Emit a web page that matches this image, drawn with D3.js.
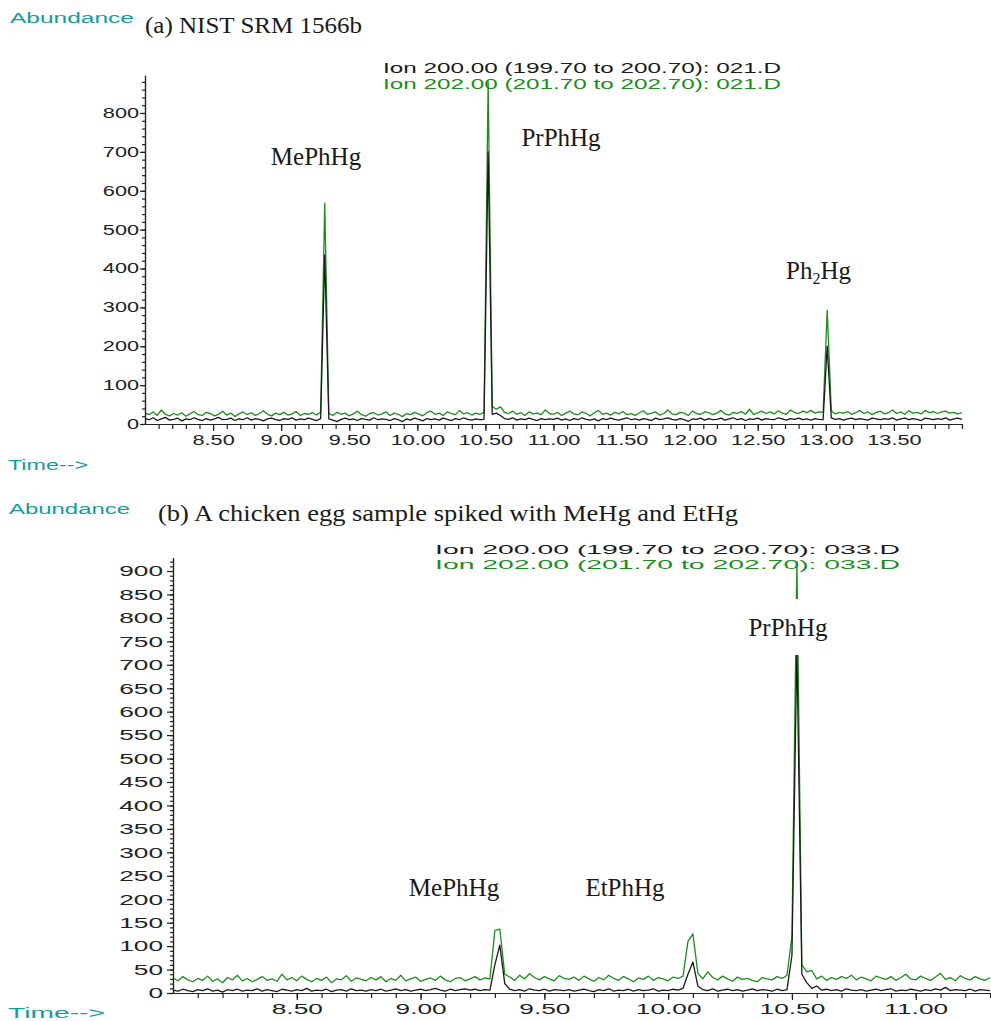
<!DOCTYPE html>
<html>
<head>
<meta charset="utf-8">
<script src="https://cdn.jsdelivr.net/npm/d3@7"></script>
<style>
  html, body { margin: 0; padding: 0; background: #fff; }
  svg { display: block; }
</style>
</head>
<body>
<svg id="chart" width="991" height="1021"></svg>
<script>
// ---- Scan timing (minutes) ----
const scanStartA = 8.0, scanStepA = 0.03;
const scanStartB = 8.0, scanStepB = 0.02;

// ---- (a) NIST SRM 1566b : extracted ion abundances ----
const ion202A = [
  28, 24, 31, 22, 36, 25, 21, 27, 23, 29, 20, 26, 32, 24, 22, 30, 27, 21, 25, 33,
  23, 28, 19, 26, 31, 24, 29, 22, 27, 34, 25, 21, 28, 24, 30, 23, 26, 32, 22, 27,
  25, 29, 23, 31, 568, 27, 22, 30, 25, 28, 21, 26, 33, 24, 20, 27, 29, 23, 26, 31,
  22, 28, 25, 19, 27, 24, 30, 26, 21, 29, 33, 25, 28, 22, 31, 27, 24, 35, 26, 29,
  23, 28, 25, 30, 880, 45, 38, 44, 30, 27, 33, 25, 29, 22, 31, 26, 28, 24, 36, 27,
  25, 30, 22, 28, 33, 26, 24, 31, 27, 21, 29, 35, 25, 28, 23, 30, 26, 32, 24, 27,
  22, 29, 34, 25, 28, 31, 23, 27, 36, 26, 24, 30, 28, 22, 33, 27, 25, 31, 29, 24,
  28, 35, 26, 23, 30, 27, 32, 25, 38, 24, 29, 33, 27, 31, 26, 34, 28, 25, 36, 30,
  27, 33, 29, 35, 28, 31, 30, 293, 34, 26, 30, 28, 32, 25, 29, 35, 27, 31, 24, 30,
  33, 26, 29, 36, 27, 31, 25, 34, 28, 30, 26, 35, 29, 32, 27, 31, 33, 28, 30, 26, 29
];
const ion200A = [
  14, 11, 16, 9, 13, 17, 10, 12, 15, 8, 13, 11, 16, 12, 9, 14, 10, 13, 17, 11,
  12, 15, 9, 13, 11, 16, 10, 14, 12, 8, 13, 15, 11, 9, 14, 12, 16, 10, 13, 11,
  15, 12, 9, 14, 435, 13, 10, 6, 12, 15, 11, 13, 9, 14, 12, 10, 16, 11, 13, 12,
  9, 14, 11, 6, 13, 10, 15, 12, 8, 14, 11, 13, 10, 15, 12, 9, 14, 11, 16, 12,
  10, 13, 11, 12, 700, 25, 28, 22, 14, 12, 16, 10, 13, 11, 15, 12, 9, 14, 11, 13,
  12, 15, 10, 13, 9, 14, 11, 16, 12, 10, 13, 8, 14, 11, 15, 12, 10, 13, 16, 11,
  13, 10, 14, 12, 9, 15, 11, 13, 16, 12, 10, 14, 11, 7, 13, 12, 15, 10, 14, 11,
  12, 15, 10, 13, 16, 11, 14, 9, 13, 12, 15, 10, 14, 12, 11, 16, 13, 10, 14, 12,
  15, 11, 13, 10, 14, 12, 11, 200, 16, 12, 14, 10, 13, 15, 11, 14, 12, 10, 15, 13,
  11, 14, 12, 16, 10, 13, 15, 11, 14, 12, 9, 15, 13, 11, 14, 12, 16, 10, 13, 15, 12
];

// ---- (b) Chicken egg sample spiked with MeHg and EtHg ----
const ion202B = [
  32, 26, 35, 28, 24, 31, 27, 36, 25, 30, 22, 33, 28, 38, 26, 31, 24, 29, 35, 27,
  30, 25, 40, 28, 33, 26, 36, 29, 24, 31, 27, 34, 22, 30, 28, 37, 25, 32, 29, 26,
  33, 28, 35, 24, 31, 27, 38, 26, 30, 34, 25, 29, 32, 27, 36, 28, 24, 31, 33, 26,
  30, 35, 28, 32, 30, 133, 136, 40, 34, 27, 38, 30, 41, 33, 28, 35, 30, 26, 37, 31,
  29, 34, 27, 36, 30, 25, 33, 28, 38, 31, 27, 35, 30, 24, 32, 29, 36, 27, 33, 30,
  26, 34, 31, 36, 110, 126, 42, 30, 45, 33, 28, 36, 30, 25, 34, 29, 31, 27, 24, 33,
  30, 28, 35, 31, 38, 120, 920, 60, 45, 48, 30, 36, 27, 33, 29, 35, 31, 38, 28, 34,
  30, 26, 36, 32, 29, 35, 27, 33, 40, 30, 28, 36, 31, 27, 34, 42, 29, 33, 26, 37,
  31, 28, 35, 30, 27, 33
];
const ion200B = [
  6, 4, 8, 5, 3, 7, 5, 9, 4, 6, 2, 7, 5, 8, 4, 6, 5, 9, 4, 7,
  5, 3, 8, 6, 4, 7, 5, 10, 4, 6, 5, 8, 3, 6, 7, 4, 9, 5, 6, 4,
  7, 5, 8, 4, 6, 9, 5, 7, 4, 6, 8, 5, 7, 10, 6, 4, 8, 5, 7, 9,
  6, 8, 5, 7, 6, 60, 102, 20, 8, 5, 7, 4, 9, 6, 5, 8, 4, 7, 6, 5,
  7, 4, 6, 8, 5, 3, 7, 5, 9, 4, 6, 5, 8, 4, 7, 5, 6, 9, 4, 6,
  5, 8, 6, 10, 40, 66, 15, 7, 5, 9, 4, 6, 8, 5, 7, 4, 6, 9, 5, 7,
  6, 4, 8, 5, 7, 80, 740, 40, 22, 10, 15, 6, 8, 5, 7, 4, 9, 6, 5, 7,
  4, 6, 8, 5, 7, 9, 4, 6, 5, 8, 6, 4, 7, 5, 9, 6, 12, 5, 7, 6,
  5, 8, 4, 7, 6, 5
];

// ---- Axis ticks ----
const xLabelTicksA = [8.5, 9.0, 9.5, 10.0, 10.5, 11.0, 11.5, 12.0, 12.5, 13.0, 13.5];
const yLabelTicksA = [0, 100, 200, 300, 400, 500, 600, 700, 800];
const xLabelTicksB = [8.5, 9.0, 9.5, 10.0, 10.5, 11.0];
const yLabelTicksB = [0, 50, 100, 150, 200, 250, 300, 350, 400, 450, 500, 550, 600, 650, 700, 750, 800, 850, 900];

// ---- Text ----
const ionLabels200 = ["Ion 200.00 (199.70 to 200.70): 021.D", "Ion 200.00 (199.70 to 200.70): 033.D"];
const ionLabels202 = ["Ion 202.00 (201.70 to 202.70): 021.D", "Ion 202.00 (201.70 to 202.70): 033.D"];
const titles = ["(a) NIST SRM 1566b", "(b) A chicken egg sample spiked with MeHg and EtHg"];

const GREEN = "#1d8c1d";
const BLACK = "#1a1a1a";
const TEAL = "#169c9c";
const SANS = "'Liberation Sans', Arial, Helvetica, sans-serif";
const SERIF = "'Liberation Serif', 'Times New Roman', serif";

const svg = d3.select("#chart");

// widen text horizontally to match the instrument's wide sans face
function widen(sel, factor) {
  sel.each(function () {
    const w = this.getComputedTextLength();
    this.setAttribute("textLength", (w * factor).toFixed(1));
    this.setAttribute("lengthAdjust", "spacingAndGlyphs");
  });
}
function fitWidth(sel, width) {
  sel.attr("textLength", width).attr("lengthAdjust", "spacingAndGlyphs");
}

function toPoints(values, start, step) {
  return values.map((v, i) => ({ t: start + i * step, v }));
}

function drawPanel(cfg) {
  const g = svg.append("g");
  const x = d3.scaleLinear().domain(cfg.xDomain).range(cfg.xRange);
  const y = d3.scaleLinear().domain([0, cfg.yRef]).range(cfg.yRange);
  const yAxisScale = d3.scaleLinear().domain([0, cfg.yTop]).range([y(0), y(cfg.yTop)]);
  const y0 = y(0);

  // traces: ion 202 first, ion 200 drawn over it
  const line = d3.line().x(d => x(d.t)).y(d => y(d.v));
  g.append("path")
    .datum(toPoints(cfg.green, cfg.start, cfg.step))
    .attr("d", line).attr("fill", "none")
    .attr("stroke", GREEN).attr("stroke-width", 1.3).attr("stroke-linejoin", "round");
  g.append("path")
    .datum(toPoints(cfg.black, cfg.start, cfg.step))
    .attr("d", line).attr("fill", "none")
    .attr("stroke", BLACK).attr("stroke-width", 1.3).attr("stroke-linejoin", "round");

  // x axis: minor ticks every 0.1 min, labelled ticks every 0.5 min
  const xMinor = d3.range(cfg.xMinorFrom, cfg.xMinorTo + 1).map(d => d / 10);
  g.append("g").attr("transform", `translate(0,${y0})`)
    .call(d3.axisBottom(x).tickValues(xMinor).tickSize(5).tickSizeOuter(0).tickFormat(""));
  const xa = g.append("g").attr("transform", `translate(0,${y0})`)
    .call(d3.axisBottom(x).tickValues(cfg.xLabels).tickSize(7).tickSizeOuter(0)
      .tickPadding(cfg.xPad).tickFormat(d3.format(".2f")));

  // y axis
  const yMinor = d3.range(0, cfg.yTop, cfg.yMinorStep);
  g.append("g").attr("transform", `translate(${x(cfg.xDomain[0])},0)`)
    .call(d3.axisLeft(yAxisScale).tickValues(yMinor).tickSize(3).tickSizeOuter(0).tickFormat(""));
  const ya = g.append("g").attr("transform", `translate(${x(cfg.xDomain[0])},0)`)
    .call(d3.axisLeft(yAxisScale).tickValues(cfg.yLabels).tickSize(cfg.yTick).tickSizeOuter(0)
      .tickPadding(cfg.yPad).tickFormat(d3.format("d")));

  g.selectAll(".domain, .tick line").attr("stroke", "#222").attr("stroke-width", 1.2);
  [xa, ya].forEach(a => a.selectAll("text")
    .attr("font-family", SANS).attr("font-size", cfg.tickFont).attr("fill", "#222"));
  widen(xa.selectAll("text"), cfg.widen);
  widen(ya.selectAll("text"), cfg.widen);

  return { g, x, y };
}

// ---------- Panel (a) ----------
const A = drawPanel({
  green: ion202A, black: ion200A, start: scanStartA, step: scanStepA,
  xDomain: [8.0, 14.0], xRange: [145, 962],
  yRef: 800, yRange: [424, 113], yTop: 897,
  xMinorFrom: 81, xMinorTo: 140, xLabels: xLabelTicksA, xPad: 4,
  yLabels: yLabelTicksA, yMinorStep: 20, yTick: 5, yPad: 1,
  tickFont: 14, widen: 1.55
});

// ---------- Panel (b) ----------
const B = drawPanel({
  green: ion202B, black: ion200B, start: scanStartB, step: scanStepB,
  xDomain: [8.0, 11.3], xRange: [173, 990],
  yRef: 900, yRange: [993, 571], yTop: 928,
  xMinorFrom: 81, xMinorTo: 113, xLabels: xLabelTicksB, xPad: 3,
  yLabels: yLabelTicksB, yMinorStep: 10, yTick: 6, yPad: 4,
  tickFont: 15, widen: 1.75
});

// ---------- Headers ----------
function sansText(txt, x, y, size, color, width) {
  const t = svg.append("text").attr("x", x).attr("y", y)
    .attr("font-family", SANS).attr("font-size", size).attr("fill", color).text(txt);
  if (width) fitWidth(t, width);
  return t;
}
function serifText(txt, x, y, size, anchor) {
  return svg.append("text").attr("x", x).attr("y", y)
    .attr("font-family", SERIF).attr("font-size", size)
    .attr("text-anchor", anchor || "start").attr("fill", "#1a1a1a").text(txt);
}

sansText("Abundance", 10, 23, 14, TEAL, 124);
sansText("Time-->", 8, 470, 14, TEAL, 80);
sansText("Abundance", 9, 514, 14, TEAL, 121);
sansText("Time-->", 8, 1018, 14, TEAL, 97);

fitWidth(serifText(titles[0], 145, 33, 24), 217);
fitWidth(serifText(titles[1], 158, 521, 24), 580);

// ion legends
sansText(ionLabels200[0], 383, 73, 15.5, "#1a1a1a", 398);
sansText(ionLabels202[0], 383, 89, 15.5, GREEN, 398);
sansText(ionLabels200[1], 435, 554, 13.5, "#1a1a1a", 465);
sansText(ionLabels202[1], 435, 569, 13.5, GREEN, 465);

// ---------- Peak labels ----------
serifText("MePhHg", 316, 165, 25, "middle");
serifText("PrPhHg", 561, 146, 25, "middle");
const ph2 = serifText("Ph", 786, 279, 25, "start");
ph2.append("tspan").attr("font-size", 16).attr("dy", 5).text("2");
ph2.append("tspan").attr("dy", -5).text("Hg");

serifText("MePhHg", 454, 896, 25, "middle");
serifText("EtPhHg", 625, 896, 25, "middle");
// label box sits over the tall peak
svg.append("rect").attr("x", 744).attr("y", 599).attr("width", 88).attr("height", 56).attr("fill", "#fff");
serifText("PrPhHg", 788, 636, 25, "middle");
</script>
</body>
</html>
